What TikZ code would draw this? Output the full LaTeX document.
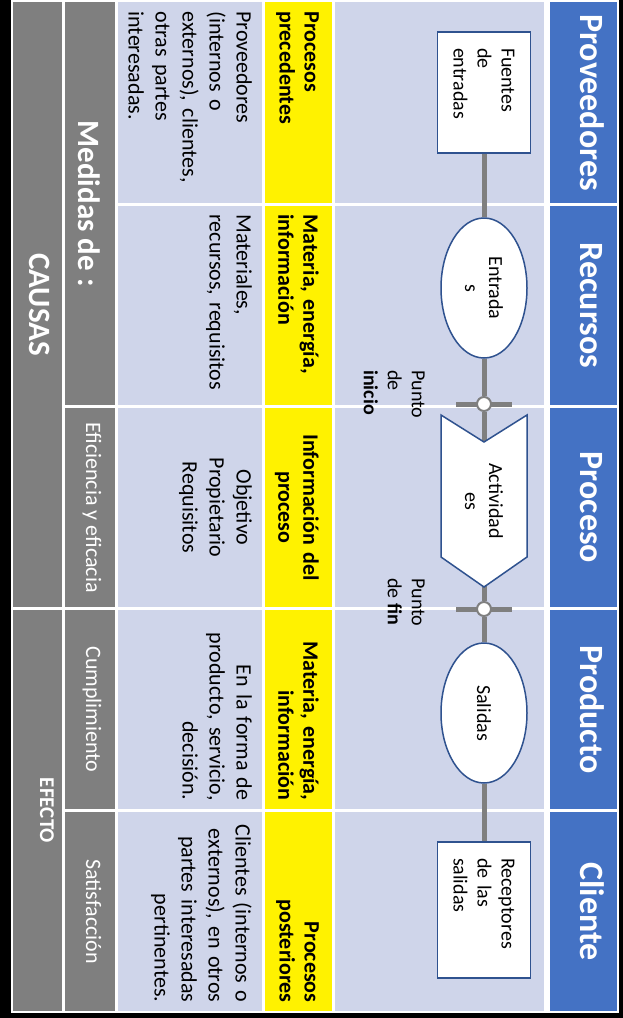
\documentclass[tikz,border=0pt]{standalone}
\usepackage{fontspec}
\setmainfont{Carlito}
\usetikzlibrary{shapes.geometric}
\definecolor{hdrblue}{HTML}{4472C4}
\definecolor{cellblue}{HTML}{CFD5EA}
\definecolor{cellgrey}{HTML}{7F7F7F}
\definecolor{edgeblue}{HTML}{2F528F}
\pgfdeclarelayer{bg}
\pgfdeclarelayer{wires}
\pgfsetlayers{bg,wires,main}

\begin{document}
\begin{tikzpicture}[x=1pt, y=-1pt,
  every node/.style={rotate=-90, inner sep=0pt},
  hdr/.style={anchor=base, text=white, font=\fontsize{34}{38}\selectfont\bfseries},
  big/.style={anchor=base, text=white, font=\fontsize{31}{36}\selectfont\bfseries},
  measure/.style={anchor=base, text=white, font=\fontsize{22}{26}\selectfont},
  body/.style={anchor=north, text width=182pt, font=\fontsize{22}{27}\selectfont},
  key/.style={anchor=north, text width=182pt, font=\fontsize{22}{25}\selectfont\bfseries},
  small/.style={font=\fontsize{20}{24}\selectfont},
  shapetxt/.style={small, draw=edgeblue, line width=1.5pt, fill=white},
  flow/.style={draw=cellgrey, line width=5pt},
  joint/.style={circle, draw=cellgrey, line width=2pt, fill=white, minimum size=14pt}]
  \useasboundingbox (0,0) rectangle (623,1018);

  % header column
  \node[hdr] (prov) at (580,102.5) {Proveedores};
  \node[hdr] (recu) at (580,305.5) {Recursos};
  \node[hdr] (proc) at (580,507.5) {Proceso};
  \node[hdr] (prod) at (580,709.5) {Producto};
  \node[hdr] (clie) at (580,911.5) {Cliente};

  % flow
  \node[shapetxt, minimum width=121pt, minimum height=93pt, text width=89pt, align=left] (fuentes) at (484,92.5) {Fuentes\\de\\entradas};
  \node[shapetxt, ellipse, minimum width=140pt, minimum height=86pt, align=center] (entradas) at (484,288) {Entrada\\s};
  \draw[draw=edgeblue, line width=1.5pt, fill=white] (441,415) -- (484,442) -- (527,415) -- (527,557) -- (484,587) -- (441,557) -- cycle;
  \node[small, align=center] (activ) at (484,501) {Actividad\\es};
  \node[shapetxt, ellipse, minimum width=140pt, minimum height=86pt] (salidas) at (484,713) {Salidas};
  \node[shapetxt, minimum width=136pt, minimum height=93pt, text width=104pt, align=left] (recep) at (484,910) {Receptores\\de las\\salidas};
  \node[joint] (inicio) at (484,404) {};
  \node[joint] (fin) at (484,609) {};
  \node[small, anchor=north west, align=left] (pinicio) at (425,370) {Punto\\de\\\textbf{inicio}};
  \node[small, anchor=north west, align=left] (pfin) at (425,578) {Punto\\de \textbf{fin}};

  % yellow column
  \node[key, align=left] (k1) at (319,102.5) {Procesos\\precedentes};
  \node[key, align=left] (k2) at (319,305.5) {Materia, energía,\\información};
  \node[key, align=center] (k3) at (319,507.5) {Información del\\proceso};
  \node[key, align=right] (k4) at (319,709.5) {Materia, energía,\\información};
  \node[key, align=right] (k5) at (319,911.5) {Procesos\\posteriores};

  % text column
  \node[body, align=left] (t1) at (252,102.5) {Proveedores\\(internos o\\externos), clientes,\\otras partes\\interesadas.};
  \node[body, align=left] (t2) at (252,305.5) {Materiales,\\recursos, requisitos};
  \node[body, align=center] (t3) at (252,507.5) {Objetivo\\Propietario\\Requisitos};
  \node[body, align=right] (t4) at (252,709.5) {En la forma de\\producto, servicio,\\decisión.};
  \node[body, align=right] (t5) at (252,911.5) {Clientes (internos o\\externos), en otros\\partes interesadas\\pertinentes.};

  % grey columns
  \node[big] (medidas) at (78,203.5) {Medidas de :};
  \node[measure] (efic) at (86,507.5) {Eficiencia y eficacia};
  \node[measure] (cumpl) at (86,709.5) {Cumplimiento};
  \node[measure] (satis) at (86,911.5) {Satisfacción};
  \node[big] (causas) at (30,304.5) {CAUSAS};
  \node[anchor=base, text=white, font=\fontsize{21}{24}\selectfont\bfseries] (efecto) at (40,810.5) {EFECTO};

  \begin{pgfonlayer}{wires}
    \draw[flow] (fuentes) -- (entradas) -- (inicio) -- (fin) -- (salidas) -- (recep);
    \draw[flow] ([xshift=-28pt]inicio.center) -- ([xshift=28pt]inicio.center);
    \draw[flow] ([xshift=-28pt]fin.center) -- ([xshift=28pt]fin.center);
  \end{pgfonlayer}

  \begin{pgfonlayer}{bg}
    \fill[black] (0,0) rectangle (623,1018);
    \fill[white] (11,0) rectangle (619,1013);
    \fill[cellgrey] (13,2) rectangle (62,607);
    \fill[cellgrey] (13,610) rectangle (62,1011);
    \fill[cellgrey] (65,2) rectangle (115,405);
    \foreach \ya/\yb in {408/607, 610/809, 812/1011}
      \fill[cellgrey] (65,\ya) rectangle (115,\yb);
    \foreach \ya/\yb in {2/203, 206/405, 408/607, 610/809, 812/1011} {
      \fill[cellblue] (118,\ya) rectangle (262,\yb);
      \fill[yellow] (265,\ya) rectangle (332,\yb);
      \fill[cellblue] (335,\ya) rectangle (544,\yb);
      \fill[hdrblue] (550,\ya) rectangle (617,\yb);
    }
  \end{pgfonlayer}
\end{tikzpicture}
\end{document}
